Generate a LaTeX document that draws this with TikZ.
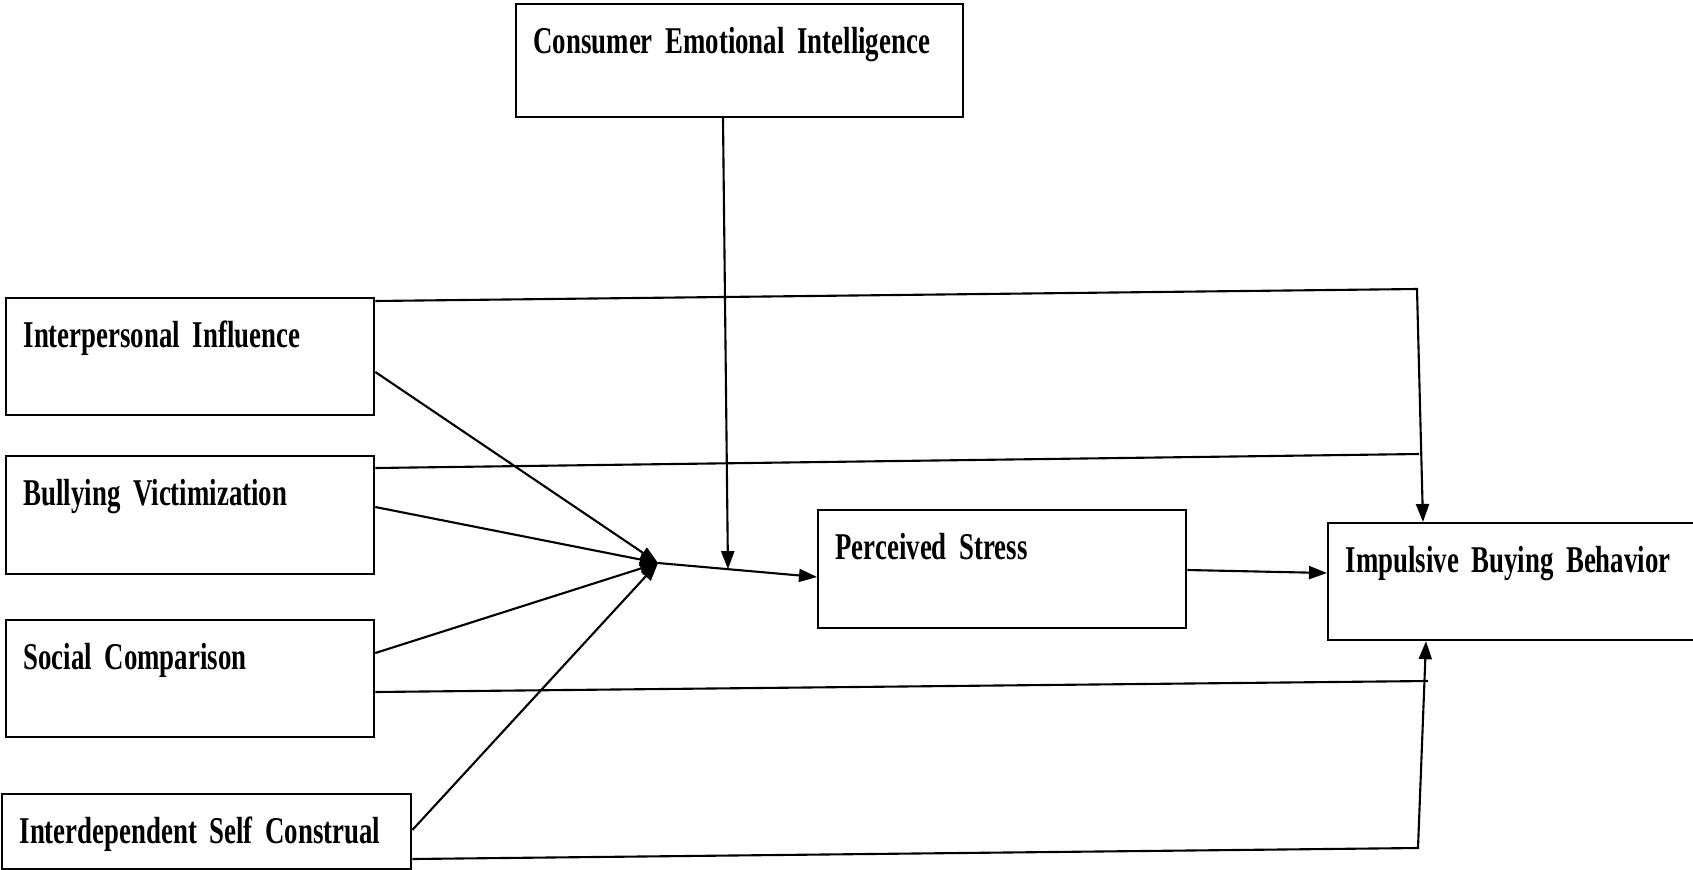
\documentclass[tikz,border=0pt]{standalone}
\usepackage{fontspec}
\newfontfamily\factorfont{Liberation Serif}[FakeStretch=0.71, WordSpace=0.6]
\usetikzlibrary{arrows.meta, calc}

\begin{document}
\begin{tikzpicture}[x=0.01cm, y=-0.01cm,
    factor/.style={draw, line width=0.6pt, anchor=north west, align=left,
        inner xsep=0.175cm, inner ysep=0pt, text height=0.49cm,
        font=\factorfont\bfseries\fontsize{10.75}{12}\selectfont},
    link/.style={line width=0.6pt},
    arr/.style={link, -{Triangle[length=0.18cm, width=0.13cm]}}]
    \useasboundingbox (0,0) rectangle (1693,869);

    % Boxes
    \node[factor, text width=4.12cm, text depth=0.64cm] (cei) at (515,3) {\mbox{Consumer Emotional Intelligence}};
    \node[factor, text width=3.33cm, text depth=0.68cm] (ii) at (5,297) {\mbox{Interpersonal Influence}};
    \node[factor, text width=3.33cm, text depth=0.69cm] (bv) at (5,455) {\mbox{Bullying Victimization}};
    \node[factor, text width=3.33cm, text depth=0.68cm] (sc) at (5,619) {\mbox{Social Comparison}};
    \node[factor, text width=3.74cm, text depth=0.26cm] (isc) at (1,793) {\mbox{Interdependent Self Construal}};
    \node[factor, text width=3.33cm, text depth=0.69cm] (ps) at (817,509) {\mbox{Perceived Stress}};
    \node[factor, text width=3.45cm, text depth=0.68cm] (ibb) at (1327,522) {\mbox{Impulsive Buying Behavior}};

    % Points where paths meet or turn
    \coordinate (hub) at (658,563);
    \coordinate (psin) at ($(ps.north west)+(0,68)$);
    \coordinate (mod) at ($(hub)!0.44!(psin)$);
    \coordinate (topturn) at (1417,289);
    \coordinate (bvjoin) at (1419,454);
    \coordinate (scjoin) at (1428,681);
    \coordinate (botturn) at (1418,848);

    % Paths to perceived stress
    \draw[arr] ($(ii.north east)+(0,75)$) -- (hub);
    \draw[arr] ($(bv.north east)+(0,52)$) -- (hub);
    \draw[arr] ($(sc.north east)+(0,34)$) -- (hub);
    \draw[arr] ($(isc.north east)+(0,37)$) -- (hub);
    \draw[arr] (hub) -- (psin);
    \draw[arr] ($(cei.south west)+(208,0)$) -- (mod);

    % Paths to impulsive buying
    \draw[arr] ($(ps.north east)+(0,61)$) -- ($(ibb.north west)+(0,51)$);
    \draw[arr] ($(ii.north east)+(0,4)$) -- (topturn) -- ($(ibb.north west)+(96,0)$);
    \draw[link] ($(bv.north east)+(0,13)$) -- (bvjoin);
    \draw[link] ($(sc.north east)+(0,73)$) -- (scjoin);
    \draw[arr] ($(isc.north east)+(0,66)$) -- (botturn) -- ($(ibb.south west)+(99,0)$);
\end{tikzpicture}
\end{document}
